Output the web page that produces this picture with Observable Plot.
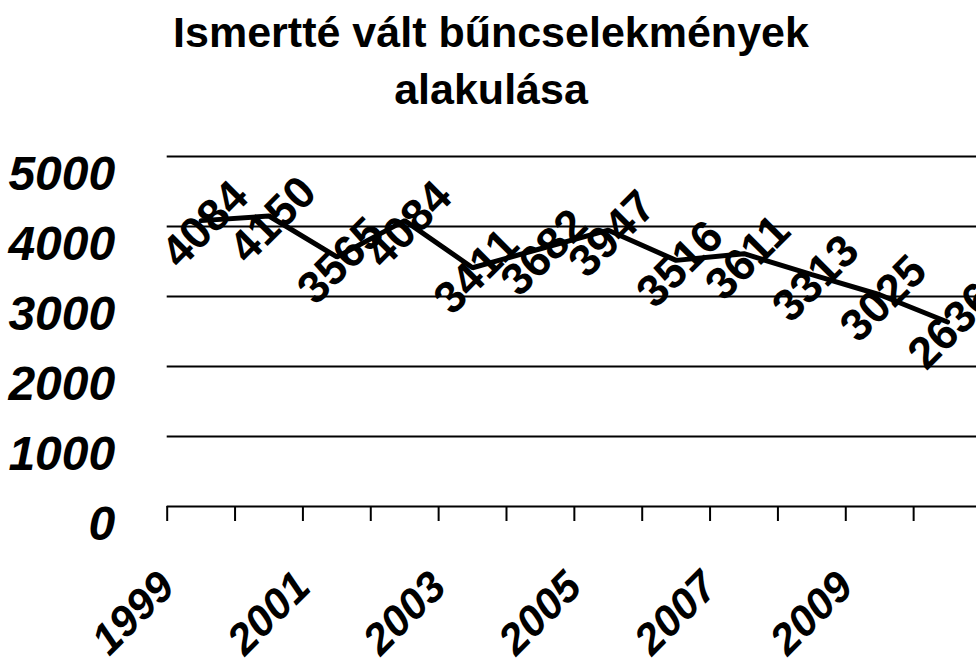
<!DOCTYPE html>
<html>
<head>
<meta charset="utf-8">
<script src="https://cdn.jsdelivr.net/npm/d3@7"></script>
<script src="https://cdn.jsdelivr.net/npm/@observablehq/plot@0.6"></script>
<style>
html, body { margin: 0; padding: 0; overflow: hidden; background: white; }
#wrap { position: relative; width: 976px; height: 667px; overflow: hidden; }
#title { position: absolute; left: 0; top: 0; width: 982px; text-align: center;
  font-family: "Liberation Sans", Arial, sans-serif; font-weight: bold; font-size: 43px;
  line-height: 57px; padding-top: 4px; color: #000; z-index: 2; }
#chart { position: absolute; left: 0; top: 0; }
</style>
</head>
<body>
<div id="wrap">
  <div id="title">Ismertté vált bűncselekmények<br>alakulása</div>
  <div id="chart"></div>
</div>
<script>
const years = [1999, 2000, 2001, 2002, 2003, 2004, 2005, 2006, 2007, 2008, 2009, 2010];
const values = [4084, 4150, 3565, 4084, 3411, 3682, 3947, 3516, 3611, 3313, 3025, 2636];
const yTicks = [0, 1000, 2000, 3000, 4000, 5000];
const gridValues = [1000, 2000, 3000, 4000, 5000];
const xLabelYears = [1999, 2001, 2003, 2005, 2007, 2009];
const categoryEdges = [1998.5, 1999.5, 2000.5, 2001.5, 2002.5, 2003.5, 2004.5, 2005.5, 2006.5, 2007.5, 2008.5, 2009.5, 2010.5];

const data = years.map((year, i) => ({year, value: values[i]}));

const font = '"Liberation Sans", Arial, sans-serif';

const chart = Plot.plot({
  width: 981,
  height: 667,
  marginLeft: 166.7,
  marginRight: 0,
  marginTop: 156,
  marginBottom: 161,
  style: {maxWidth: "none", fontFamily: font, color: "#000", background: "white", overflow: "visible"},
  x: {type: "linear", domain: [1998.5, 2010.5], nice: false, label: null},
  y: {domain: [0, 5000], nice: false, label: null},
  marks: [
    Plot.ruleY(gridValues, {stroke: "#000", strokeWidth: 2}),
    Plot.ruleY([0], {stroke: "#000", strokeWidth: 2}),
    Plot.axisX({ticks: categoryEdges, tickSize: 15, tickFormat: () => "", label: null, stroke: "#000", strokeWidth: 2}),
    Plot.axisX({ticks: xLabelYears, tickSize: 0, tickPadding: 0, tickRotate: -45, label: null,
      tickFormat: d => String(d), fontSize: 43, fontWeight: "bold", fontStyle: "italic",
      dx: -34, dy: 73, fill: "#000"}),
    Plot.axisY({ticks: yTicks, tickSize: 0, tickPadding: 52, tickFormat: d => String(d), label: null,
      fontSize: 48, fontWeight: "bold", fontStyle: "italic", dy: 18, fill: "#000"}),
    Plot.line(data, {x: "year", y: "value", stroke: "#000", strokeWidth: 5, strokeLinejoin: "miter"}),
    Plot.text(data, {x: "year", y: "value", text: d => String(d.value), rotate: -45,
      fontSize: 45, fontWeight: "bold", fill: "#000", textAnchor: "middle", lineAnchor: "middle", dx: 4, dy: 4})
  ]
});
document.getElementById("chart").appendChild(chart);
</script>
</body>
</html>
